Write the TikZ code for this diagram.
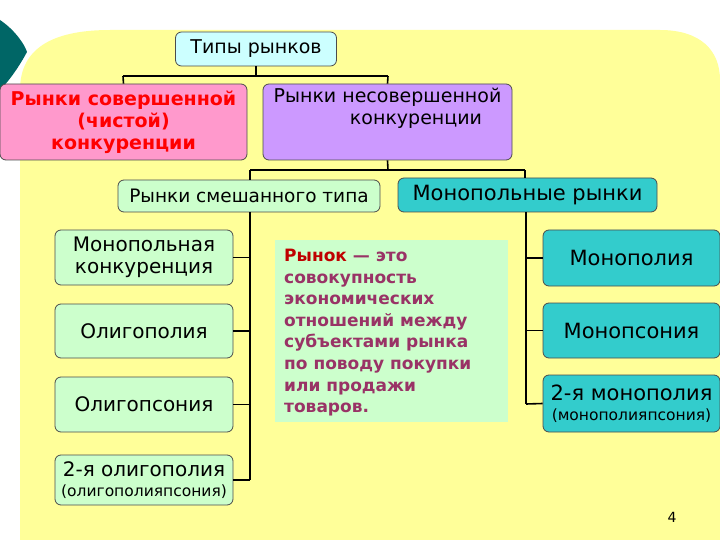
\documentclass[tikz,border=0pt]{standalone}
\usepackage{fontspec}
\setmainfont{DejaVu Sans}
\definecolor{bgy}{HTML}{FFFF99}
\definecolor{lcy}{HTML}{CCFFFF}
\definecolor{pnk}{HTML}{FF99CC}
\definecolor{prp}{HTML}{CC99FF}
\definecolor{lgr}{HTML}{CCFFCC}
\definecolor{tel}{HTML}{33CCCC}
\definecolor{dtel}{HTML}{006666}
\definecolor{mag}{HTML}{993366}
\begin{document}
\begin{tikzpicture}[x=1pt,y=-1pt,
 bx/.style={draw=black!70,line width=0.8pt,rounded corners=6pt,align=center,inner sep=0pt,font=\fontsize{19}{22}\selectfont},
 ln/.style={line width=1.6pt}]
\useasboundingbox (0,0) rectangle (720,540);
\fill[white] (0,0) rectangle (720,540);
\fill[bgy] (20,540) -- (20,90) .. controls (20,50) and (50,30) .. (110,30) -- (660,30) .. controls (700,30) and (720,50) .. (720,80) -- (720,540) -- cycle;
\fill[dtel] (0,20) .. controls (15,30) and (25,45) .. (27,52) .. controls (20,65) and (10,80) .. (0,90) -- cycle;
\node[bx,fill=lcy,minimum width=161pt,minimum height=34pt] (t) at (256,49) {Типы рынков};
\node[bx,fill=pnk,minimum width=247pt,minimum height=76pt,text=red,font=\fontsize{19}{22}\bfseries\selectfont] (s) at (123.5,122) {Рынки совершенной\\(чистой)\\конкуренции};
\node[bx,fill=prp,minimum width=249pt,minimum height=76pt,font=\fontsize{19}{22}\selectfont] (n) at (387.5,122) {Рынки несовершенной\\\hspace*{3em}конкуренции\\[10pt]};
\node[bx,fill=lgr,minimum width=262pt,minimum height=32pt,font=\fontsize{18.5}{22}\selectfont] (m) at (249,196) {Рынки смешанного типа};
\node[bx,fill=tel,minimum width=259pt,minimum height=34pt,font=\fontsize{21}{24}\selectfont] (mr) at (527.5,195) {Монопольные рынки};
\node[bx,fill=lgr,minimum width=178pt,minimum height=55pt,font=\fontsize{20}{22}\selectfont] (l1) at (144,257.5) {Монопольная\\конкуренция};
\node[bx,fill=lgr,minimum width=178pt,minimum height=54pt,font=\fontsize{20}{24}\selectfont] (l2) at (144,331) {Олигополия};
\node[bx,fill=lgr,minimum width=178pt,minimum height=55pt,font=\fontsize{20}{24}\selectfont] (l3) at (144,404.5) {Олигопсония};
\node[bx,fill=lgr,minimum width=178pt,minimum height=50pt] (l4) at (144,480) {\fontsize{20}{21}\selectfont 2-я олигополия\\[-2pt]\fontsize{15.5}{16}\selectfont(олигополияпсония)};
\node[bx,fill=tel,minimum width=177pt,minimum height=56pt,font=\fontsize{21}{24}\selectfont] (r1) at (631.5,258) {Монополия};
\node[bx,fill=tel,minimum width=177pt,minimum height=55pt,font=\fontsize{21}{24}\selectfont] (r2) at (631.5,330.5) {Монопсония};
\node[bx,fill=tel,minimum width=177pt,minimum height=57pt] (r3) at (631.5,403.5) {\fontsize{21}{22}\selectfont 2-я монополия\\[-2pt]\fontsize{15.5}{16}\selectfont(монополияпсония)};
\node[fill=lgr,minimum width=233pt,minimum height=182pt,inner sep=0pt] (d) at (391.5,331) {};
\node[anchor=north west,align=left,text=mag,font=\fontsize{17}{21.6}\bfseries\selectfont,inner sep=0pt] (dt) at (284,249) {\textcolor{red!75!black}{Рынок} — это\\совокупность\\экономических\\отношений между\\субъектами рынка\\по поводу покупки\\или продажи\\товаров.};
\node[font=\fontsize{14}{16}\selectfont] (pg) at (672,517) {4};
% connectors
\coordinate (a1) at (256,76); \coordinate (a2) at (123,76); \coordinate (a3) at (388,76);
\draw[ln] (t.south) -- (a1);
\draw[ln] (a2) -- (a3);
\draw[ln] (a2) -- (s.north);
\draw[ln] (a3) -- (n.north);
\coordinate (b1) at (388,170); \coordinate (b2) at (250,170); \coordinate (b3) at (525,170);
\draw[ln] (n.south) -- (b1);
\draw[ln] (b2) -- (b3);
\draw[ln] (b2) -- (b2 |- m.north);
\draw[ln] (b3) -- (b3 |- mr.north);
\coordinate (c0) at (250,212); \coordinate (c1) at (250,480);
\draw[ln] (c0) -- (c1);
\draw[ln] (l1.east) -- (l1.east -| c0);
\draw[ln] (l2.east) -- (l2.east -| c0);
\draw[ln] (l3.east) -- (l3.east -| c0);
\draw[ln] (l4.east) -- (c1);
\coordinate (e0) at (526,212); \coordinate (e1) at (526,404);
\draw[ln] (e0) -- (e1);
\draw[ln] (r1.west) -- (r1.west -| e0);
\draw[ln] (r2.west) -- (r2.west -| e0);
\draw[ln] (r3.west) -- (e1);
\end{tikzpicture}
\end{document}
